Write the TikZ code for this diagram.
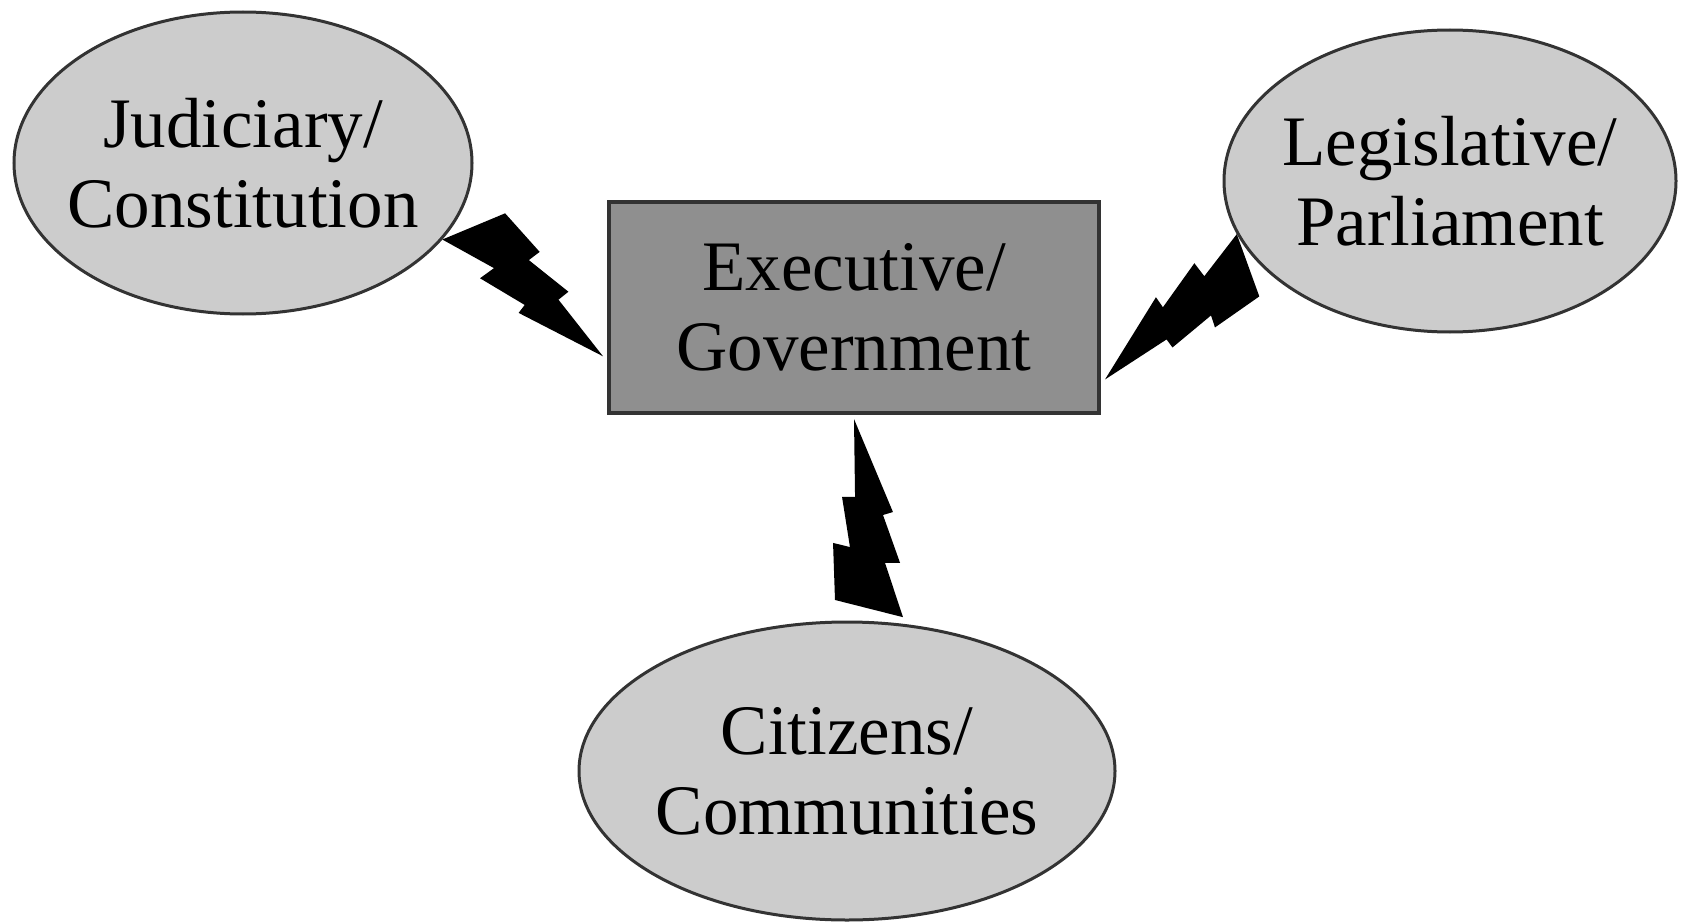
\documentclass[tikz,border=0pt]{standalone}
\usepackage{fontspec}
\setmainfont{Liberation Serif}
\usepackage{tikz}
\usetikzlibrary{shapes.geometric,calc}

\begin{document}
\begin{tikzpicture}[x=1pt,y=-1pt,
        branch/.style={ellipse, draw=black!80, line width=3pt, fill=black!20, inner sep=-20pt, align=center, font=\fontsize{71}{80}\selectfont},
        govbox/.style={rectangle, draw=black!80, line width=4pt, fill=black!44, minimum width=490pt, minimum height=211pt, inner sep=0pt, outer sep=6pt, align=center, font=\fontsize{71}{80}\selectfont},
        bolt/.style={fill=black}]
        \useasboundingbox (0,0) rectangle (1682,923);
        % Separation of powers: three branches round the executive
        \node[govbox] (exec) at (854,307.5) {Executive/\\Government};
        \node[branch, minimum width=458pt, minimum height=302pt] (jud) at (243,163) {Judiciary/\\Constitution};
        \node[branch, minimum width=452pt, minimum height=302pt] (leg) at (1450,181) {Legislative/\\Parliament};
        \node[branch, minimum width=536pt, minimum height=298pt] (cit) at (847,771) {Citizens/\\Communities};

        \coordinate (j1) at (jud.-21);
        \coordinate (j2) at (exec.191);
        \coordinate (l1) at (exec.-16);
        \coordinate (l2) at (leg.194);
        \coordinate (c1) at (exec.south);
        \coordinate (c2) at (cit.center);

        % lightning bolts
        \fill[bolt] (j1) -- ($(j1)!.178!(j2)!58.1pt!90:(j2)$) -- ($(j1)!.433!(j2)!47.2pt!90:(j2)$)
            -- ($(j1)!.413!(j2)!34.2pt!90:(j2)$) -- ($(j1)!.668!(j2)!31.9pt!90:(j2)$)
            -- ($(j1)!.651!(j2)!19.6pt!90:(j2)$) -- (j2)
            -- ($(j1)!.528!(j2)!14.5pt!-90:(j2)$) -- ($(j1)!.529!(j2)!4.5pt!-90:(j2)$)
            -- ($(j1)!.268!(j2)!9.2pt!-90:(j2)$) -- ($(j1)!.295!(j2)!7.2pt!90:(j2)$) -- cycle;
        \fill[bolt] (l1) -- ($(l1)!.485!(l2)!17.5pt!90:(l2)$) -- ($(l1)!.471!(l2)!5.6pt!90:(l2)$)
            -- ($(l1)!.745!(l2)!11.9pt!90:(l2)$) -- ($(l1)!.730!(l2)!4.2pt!-90:(l2)$) -- (l2)
            -- ($(l1)!.842!(l2)!58.5pt!-90:(l2)$) -- ($(l1)!.573!(l2)!46.5pt!-90:(l2)$)
            -- ($(l1)!.605!(l2)!35.5pt!-90:(l2)$) -- ($(l1)!.352!(l2)!28.5pt!-90:(l2)$)
            -- ($(l1)!.362!(l2)!18.7pt!-90:(l2)$) -- cycle;
        \fill[bolt] (c1) -- ($(c1)!.262!(c2)!40.8pt!90:(c2)$) -- ($(c1)!.271!(c2)!30.9pt!90:(c2)$)
            -- ($(c1)!.406!(c2)!48.9pt!90:(c2)$) -- ($(c1)!.407!(c2)!33.9pt!90:(c2)$)
            -- ($(c1)!.560!(c2)!52.9pt!90:(c2)$) -- ($(c1)!.515!(c2)!15.4pt!-90:(c2)$)
            -- ($(c1)!.353!(c2)!18.5pt!-90:(c2)$) -- ($(c1)!.364!(c2)!1.5pt!-90:(c2)$)
            -- ($(c1)!.222!(c2)!10.4pt!-90:(c2)$) -- ($(c1)!.221!(c2)!2.6pt!90:(c2)$) -- cycle;
    \end{tikzpicture}
\end{document}
